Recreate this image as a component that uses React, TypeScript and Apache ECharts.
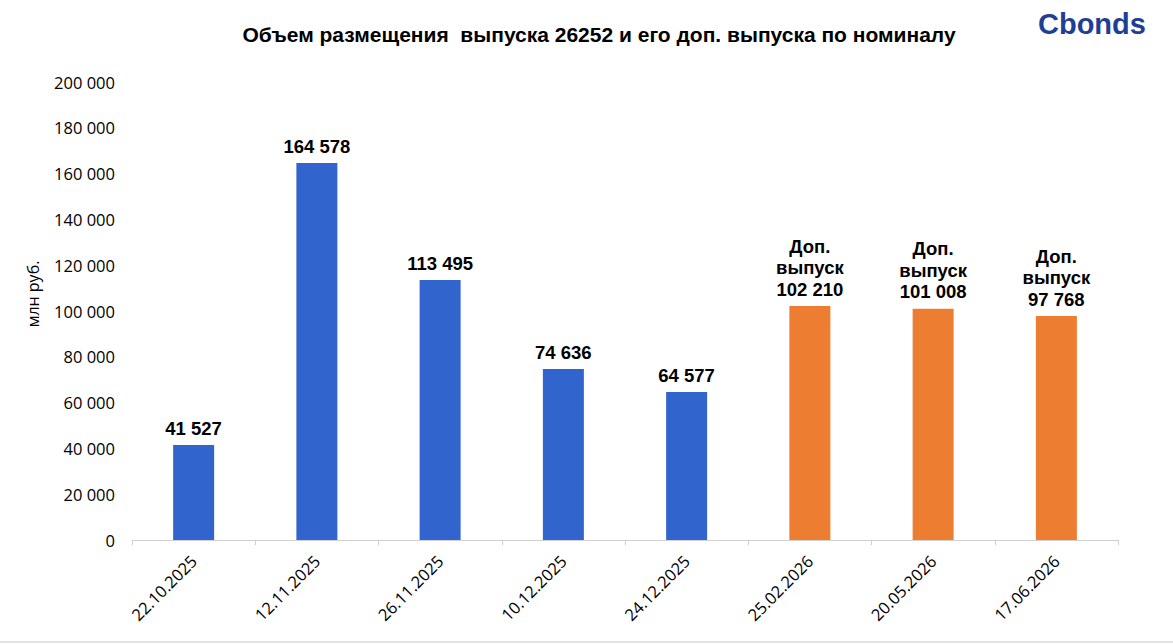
import React, { useEffect, useRef } from "react";
import * as echarts from "echarts";

const categories = [
  "22.10.2025",
  "12.11.2025",
  "26.11.2025",
  "10.12.2025",
  "24.12.2025",
  "25.02.2026",
  "20.05.2026",
  "17.06.2026",
];
const values = [41527, 164578, 113495, 74636, 64577, 102210, 101008, 97768];
const isAdditional = [false, false, false, false, false, true, true, true];
const yTicks = { min: 0, max: 200000, interval: 20000 };

const titleText = "Объем размещения  выпуска 26252 и его доп. выпуска по номиналу";
const yAxisName = "млн руб.";
const additionalPrefix = "Доп.\nвыпуск";

const BLUE = "#3165CD";
const ORANGE = "#ED7D31";

function fmt(v: number): string {
  return String(v).replace(/\B(?=(\d{3})+(?!\d))/g, " ");
}

export default function App() {
  const ref = useRef<HTMLDivElement>(null);
  useEffect(() => {
    if (!ref.current) return;
    const chart = echarts.init(ref.current, undefined, { renderer: "svg" });
    chart.setOption({
      animation: false,
      backgroundColor: "#ffffff",
      title: {
        text: titleText,
        left: 594,
        textAlign: "center",
        top: 19,
        textStyle: {
          fontFamily: "Liberation Sans, Arial, sans-serif",
          fontWeight: "bold",
          fontSize: 21,
          color: "#000000",
        },
      },
      graphic: [
        {
          type: "text",
          left: 1038,
          top: 9,
          style: {
            text: "Cbonds",
            fontFamily: "Liberation Sans, Arial, sans-serif",
            fontWeight: "bold",
            fontSize: 29,
            fill: "#1E3F94",
          },
        },
        {
          type: "text",
          x: 33,
          y: 294,
          rotation: Math.PI / 2,
          style: {
            text: yAxisName,
            fontFamily: "Open Sans, Noto Sans, sans-serif",
            fontSize: 16,
            fill: "#000000",
            align: "center",
            verticalAlign: "middle",
          },
        },
        {
          type: "line",
          shape: { x1: 0, y1: 642, x2: 1173, y2: 642 },
          style: { stroke: "#d9d9d9", lineWidth: 1.5 },
        },
      ],
      grid: { left: 132, right: 55, top: 82, bottom: 104 },
      xAxis: {
        type: "category",
        data: categories,
        boundaryGap: true,
        axisLine: { lineStyle: { color: "#d0d0d0", width: 1 } },
        axisTick: { show: true, length: 5, lineStyle: { color: "#d0d0d0" } },
        axisLabel: {
          rotate: 45,
          interval: 0,
          margin: 18,
          fontFamily: "Open Sans, Noto Sans, sans-serif",
          fontSize: 16.5,
          color: "#000000",
        },
      },
      yAxis: {
        type: "value",
        min: yTicks.min,
        max: yTicks.max,
        interval: yTicks.interval,
        splitLine: { show: false },
        axisLine: { show: false },
        axisTick: { show: false },
        axisLabel: {
          margin: 17,
          fontFamily: "Open Sans, Noto Sans, sans-serif",
          fontSize: 16.5,
          color: "#000000",
          formatter: (v: number) => fmt(v),
        },
      },
      series: [
        {
          type: "bar",
          barWidth: 41,
          data: values.map((v, i) => ({
            value: v,
            itemStyle: { color: isAdditional[i] ? ORANGE : BLUE },
          })),
          label: {
            show: true,
            position: "top",
            distance: 6,
            fontFamily: "Liberation Sans, Arial, sans-serif",
            fontWeight: "bold",
            fontSize: 18.5,
            lineHeight: 21.5,
            color: "#000000",
            formatter: (p: any) =>
              isAdditional[p.dataIndex]
                ? additionalPrefix + "\n" + fmt(p.value)
                : fmt(p.value),
          },
        },
      ],
    });
    return () => chart.dispose();
  }, []);
  return (
    <div
      ref={ref}
      style={{ position: "fixed", left: 0, top: 0, width: 1173, height: 644 }}
    />
  );
}
